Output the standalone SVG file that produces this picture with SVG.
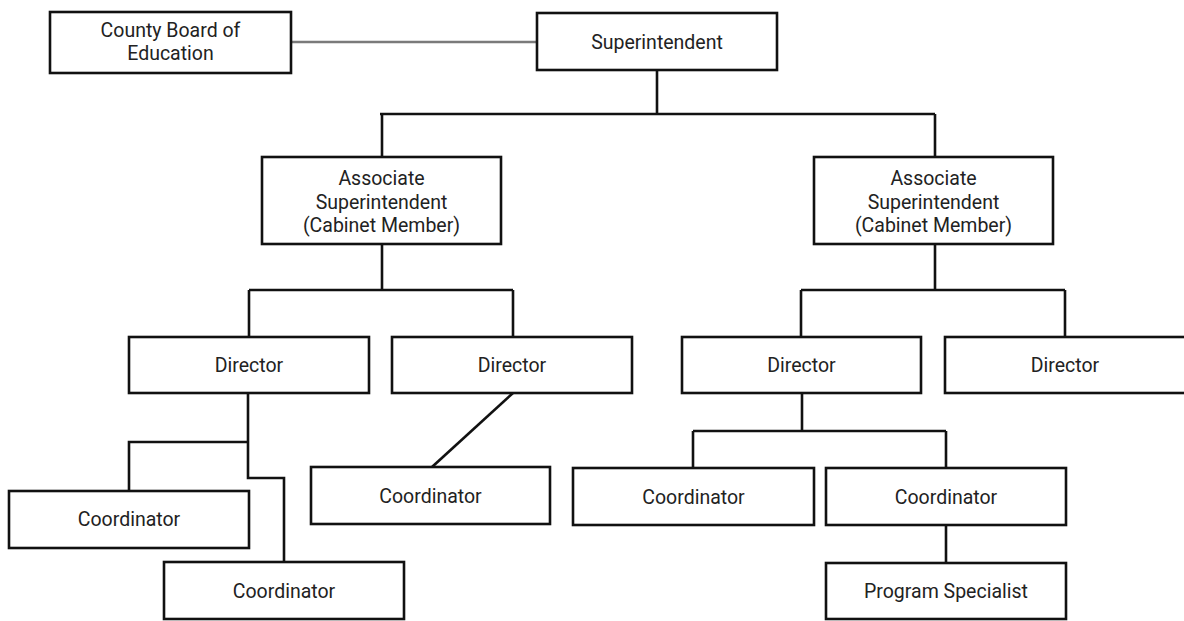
<svg xmlns="http://www.w3.org/2000/svg" width="1184" height="621" viewBox="0 0 1184 621">
  <style>
    .box { fill: #fff; stroke: #111; stroke-width: 2.6; }
    .lbl { font-family: Roboto, "Liberation Sans", sans-serif; font-size: 19.5px; fill: #222; text-anchor: middle; }
    .wire { fill: none; stroke: #111; stroke-width: 2.6; }
    .link { fill: none; stroke: #7a7a7a; stroke-width: 2.4; }
  </style>
  <rect width="1184" height="621" fill="#fff"/>

  <!-- connectors -->
  <g id="connectors">
    <line class="link" x1="291" y1="42" x2="537" y2="42"/>
    <path class="wire" d="M657 70 V114 M380 114 H935 M382 114 V157 M935 114 V157"/>
    <path class="wire" d="M382 244 V290 M249 290 H513 M249 290 V337 M513 290 V337"/>
    <path class="wire" d="M935 244 V290 M801 290 H1065 M801 290 V337 M1065 290 V337"/>
    <path class="wire" d="M248 393 V478 H284 V562 M248 442 H129 V491"/>
    <line class="wire" x1="513" y1="393" x2="432" y2="467"/>
    <path class="wire" d="M802 393 V431 M693 431 H946 M693 431 V468 M946 431 V468"/>
    <line class="wire" x1="946" y1="525" x2="946" y2="563"/>
  </g>

  <g id="board">
    <rect class="box" x="50" y="12" width="241" height="61"/>
    <text class="lbl" x="170.5" y="37">County Board of</text>
    <text class="lbl" x="170.5" y="60">Education</text>
  </g>
  <g id="superintendent">
    <rect class="box" x="537" y="13" width="240" height="57"/>
    <text class="lbl" x="657" y="49">Superintendent</text>
  </g>
  <g id="assoc-left">
    <rect class="box" x="262" y="157" width="239" height="87"/>
    <text class="lbl" x="381.5" y="185">Associate</text>
    <text class="lbl" x="381.5" y="208.5">Superintendent</text>
    <text class="lbl" x="381.5" y="232">(Cabinet Member)</text>
  </g>
  <g id="assoc-right">
    <rect class="box" x="814" y="157" width="239" height="87"/>
    <text class="lbl" x="933.5" y="185">Associate</text>
    <text class="lbl" x="933.5" y="208.5">Superintendent</text>
    <text class="lbl" x="933.5" y="232">(Cabinet Member)</text>
  </g>
  <g id="director-1">
    <rect class="box" x="129" y="337" width="240" height="56"/>
    <text class="lbl" x="249" y="372">Director</text>
  </g>
  <g id="director-2">
    <rect class="box" x="392" y="337" width="240" height="56"/>
    <text class="lbl" x="512" y="372">Director</text>
  </g>
  <g id="director-3">
    <rect class="box" x="682" y="337" width="239" height="56"/>
    <text class="lbl" x="801.5" y="372">Director</text>
  </g>
  <g id="director-4">
    <rect class="box" x="945" y="337" width="241" height="56"/>
    <text class="lbl" x="1065" y="372">Director</text>
  </g>
  <g id="coordinator-1">
    <rect class="box" x="9" y="491" width="240" height="57"/>
    <text class="lbl" x="129" y="526">Coordinator</text>
  </g>
  <g id="coordinator-2">
    <rect class="box" x="164" y="562" width="240" height="57"/>
    <text class="lbl" x="284" y="598">Coordinator</text>
  </g>
  <g id="coordinator-3">
    <rect class="box" x="311" y="467" width="239" height="57"/>
    <text class="lbl" x="430.5" y="503">Coordinator</text>
  </g>
  <g id="coordinator-4">
    <rect class="box" x="573" y="468" width="241" height="57"/>
    <text class="lbl" x="693.5" y="504">Coordinator</text>
  </g>
  <g id="coordinator-5">
    <rect class="box" x="826" y="468" width="240" height="57"/>
    <text class="lbl" x="946" y="504">Coordinator</text>
  </g>
  <g id="program-specialist">
    <rect class="box" x="826" y="563" width="240" height="56"/>
    <text class="lbl" x="946" y="598">Program Specialist</text>
  </g>
</svg>
